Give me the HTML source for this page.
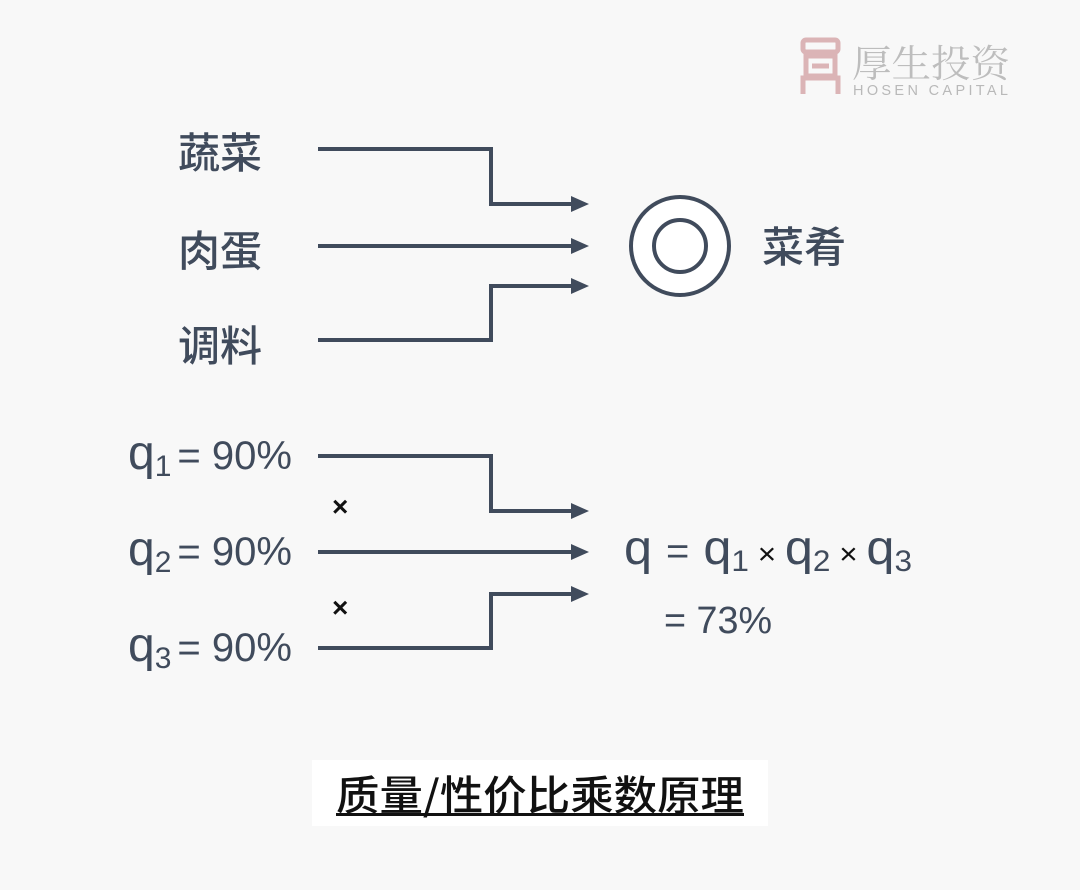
<!DOCTYPE html>
<html><head><meta charset="utf-8"><style>
html,body{margin:0;padding:0;background:#f8f8f8;}
svg{display:block}
</style></head><body>
<svg width="1080" height="890" viewBox="0 0 1080 890" xmlns="http://www.w3.org/2000/svg">
<rect width="1080" height="890" fill="#f8f8f8"/>
<g fill="none" stroke="#dbb4b6" stroke-width="5">
<rect x="803" y="40" width="35" height="12" rx="3"/>
<rect x="806" y="56" width="29" height="20"/>
<line x1="812" y1="66" x2="829" y2="66"/>
<path d="M803 94 V78 H838 V94"/>
</g>
<text x="852" y="77" font-family="'Noto Serif CJK SC',serif" font-size="38" fill="#bdbdbd" textLength="158" lengthAdjust="spacingAndGlyphs">厚生投资</text>
<text x="853" y="95" font-family="'Liberation Sans',sans-serif" font-size="14.5" fill="#b9b9b9" textLength="155">HOSEN CAPITAL</text>

<g font-family="'Noto Sans CJK SC','Liberation Sans',sans-serif" fill="#404b5c" font-weight="500">
<text x="178" y="168" font-size="42">蔬菜</text>
<text x="178" y="266" font-size="42">肉蛋</text>
<text x="178" y="361" font-size="42">调料</text>
<text x="762" y="262" font-size="42">菜肴</text>
</g>

<g stroke="#404b5c" stroke-width="4" fill="none">
<path d="M318 149 H491 V204 H574"/>
<path d="M318 246 H574"/>
<path d="M318 340 H491 V286 H574"/>
<path d="M318 456 H491 V511 H574"/>
<path d="M318 552 H574"/>
<path d="M318 648 H491 V594 H574"/>
<circle cx="680" cy="246" r="49" fill="#fff"/>
<circle cx="680" cy="246" r="26"/>
</g>
<g fill="#404b5c">
<path d="M571 196 L589 204 L571 212Z"/>
<path d="M571 238 L589 246 L571 254Z"/>
<path d="M571 278 L589 286 L571 294Z"/>
<path d="M571 503 L589 511 L571 519Z"/>
<path d="M571 544 L589 552 L571 560Z"/>
<path d="M571 586 L589 594 L571 602Z"/>
</g>

<g font-family="'Liberation Sans',sans-serif" fill="#404b5c" font-weight="500">
<text x="128" y="469" font-size="48" textLength="164" lengthAdjust="spacingAndGlyphs">q<tspan font-size="30" dy="7">1</tspan><tspan dy="-7" font-size="40" dx="6">= 90%</tspan></text>
<text x="128" y="565" font-size="48" textLength="164" lengthAdjust="spacingAndGlyphs">q<tspan font-size="30" dy="7">2</tspan><tspan dy="-7" font-size="40" dx="6">= 90%</tspan></text>
<text x="128" y="661" font-size="48" textLength="164" lengthAdjust="spacingAndGlyphs">q<tspan font-size="30" dy="7">3</tspan><tspan dy="-7" font-size="40" dx="6">= 90%</tspan></text>
<text x="624" y="564" font-size="48" textLength="288" lengthAdjust="spacingAndGlyphs">q <tspan font-size="38">=</tspan> q<tspan font-size="30" dy="7">1</tspan><tspan dy="-7" font-size="30" fill="#111"> × </tspan>q<tspan font-size="30" dy="7">2</tspan><tspan dy="-7" font-size="30" fill="#111"> × </tspan>q<tspan font-size="30" dy="7">3</tspan></text>
<text x="664" y="633" font-size="38" textLength="108" lengthAdjust="spacingAndGlyphs">= 73%</text>
</g>
<g font-family="'Liberation Sans',sans-serif" fill="#111" font-size="28" font-weight="bold">
<text x="332" y="516">×</text>
<text x="332" y="617">×</text>
</g>

<rect x="312" y="760" width="456" height="66" fill="#fff"/>
<text x="336" y="810" font-family="'Noto Sans CJK SC','Liberation Sans',sans-serif" font-size="41" font-weight="500" fill="#111" textLength="408" lengthAdjust="spacingAndGlyphs">质量/性价比乘数原理</text>
<rect x="336" y="813" width="408" height="3" fill="#111"/>
</svg>
</body></html>
